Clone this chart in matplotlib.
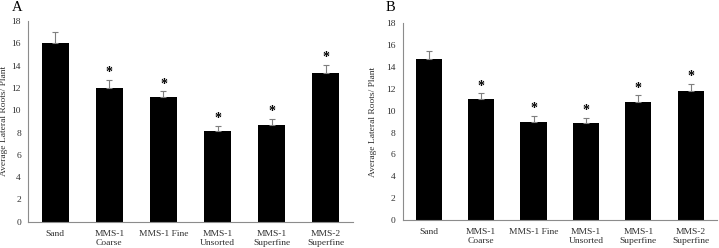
import matplotlib.pyplot as plt
import numpy as np

plt.rcParams['font.family'] = ['Liberation Serif', 'DejaVu Serif']

categories = ['Sand', 'MMS-1\nCoarse', 'MMS-1 Fine', 'MMS-1\nUnsorted',
              'MMS-1\nSuperfine', 'MMS-2\nSuperfine']
means_a = [16.0, 12.0, 11.15, 8.1, 8.7, 13.3]
errs_a = [1.0, 0.7, 0.55, 0.5, 0.5, 0.75]
stars_a = [False, True, True, True, True, True]
means_b = [14.7, 11.05, 8.95, 8.85, 10.8, 11.8]
errs_b = [0.8, 0.55, 0.55, 0.5, 0.6, 0.65]
stars_b = [False, True, True, True, True, True]

fig = plt.figure(figsize=(7.19, 2.48), dpi=100)
ax_a = fig.add_axes([0.039, 0.106, 0.452, 0.809])
ax_b = fig.add_axes([0.560, 0.113, 0.437, 0.793])

def draw(ax, means, errs, stars, letter, lx, ylab_x):
    x = np.arange(len(categories))
    ax.bar(x, means, width=0.5, color='black', zorder=2)
    ax.errorbar(x, means, yerr=[np.zeros(len(errs)), errs], fmt='none',
                ecolor='#7f7f7f', elinewidth=0.8, capsize=2, capthick=0.8, zorder=3)
    for xi, m, e, s in zip(x, means, errs, stars):
        if s:
            ax.annotate('*', (xi, m + e), xytext=(0, 0.5), textcoords='offset points',
                        ha='center', va='bottom', fontsize=10, fontweight='bold')
    ax.set_xlim(-0.5, len(categories) - 0.5)
    ax.set_ylim(0, 18)
    ax.set_yticks(range(0, 19, 2))
    ax.set_xticks(x)
    ax.set_xticklabels(categories, fontsize=6.8, va='top', linespacing=1.1)
    ax.tick_params(axis='both', length=0, labelsize=6.8, colors='#303030')
    ax.tick_params(axis='x', pad=6)
    ax.tick_params(axis='y', pad=5)
    for sp in ['top', 'right']:
        ax.spines[sp].set_visible(False)
    for sp in ['left', 'bottom']:
        ax.spines[sp].set_color('#8c8c8c')
        ax.spines[sp].set_linewidth(0.8)
    ax.set_ylabel('Average Lateral Roots/ Plant', fontsize=6.8, color='#303030')
    ax.yaxis.set_label_coords(ylab_x, 0.5)
    fig.text(lx, 0.995, letter, fontsize=10.5, ha='left', va='top')

draw(ax_a, means_a, errs_a, stars_a, 'A', 0.017, -0.062)
draw(ax_b, means_b, errs_b, stars_b, 'B', 0.537, -0.082)

fig.savefig('out.png', dpi=100)
